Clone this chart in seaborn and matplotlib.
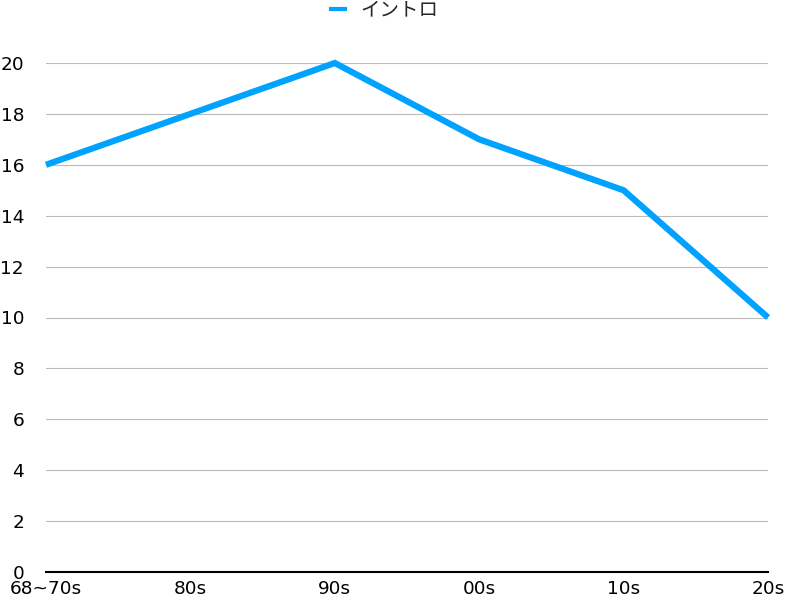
import matplotlib
matplotlib.use("Agg")
import matplotlib.pyplot as plt
import seaborn as sns
import pandas as pd

categories = ["68~70s", "80s", "90s", "00s", "10s", "20s"]
values = [16, 18, 20, 17, 15, 10]
series_name = "イントロ"

sns.set_style("white")
plt.rcParams['font.family'] = ['DejaVu Sans', 'Noto Sans CJK JP']

df = pd.DataFrame({"period": categories, "value": values, "series": series_name})

fig = plt.figure(figsize=(7.88, 6.0), dpi=100)
ax = fig.add_axes([46/788, 28/600, (768-46)/788, (572-63)/600])
sns.lineplot(data=df, x="period", y="value", hue="series", palette=["#00A2FF"],
             linewidth=4.5, sort=False, ax=ax, legend=True)
ax.set_xlim(0.0, len(categories) - 1)
ax.set_ylim(0, 20)
ax.set_yticks(range(0, 21, 2))
ax.yaxis.grid(True, color="#BBBBBB", linewidth=0.8)
ax.set_axisbelow(True)
for s in ["left", "right", "top"]:
    ax.spines[s].set_visible(False)
ax.spines["bottom"].set_color("black")
ax.spines["bottom"].set_linewidth(1.5)
ax.set_xlabel("")
ax.set_ylabel("")
ax.tick_params(axis="both", length=0, labelsize=13.3, colors="black")
ax.tick_params(axis="y", pad=15.8)
ax.tick_params(axis="x", pad=5.5)
ax.get_legend().remove()
handles, labels = ax.get_legend_handles_labels()
leg = fig.legend(handles, labels, loc="center", bbox_to_anchor=(384/788, 1 - 10/600), ncol=1,
                 frameon=False, fontsize=14, handlelength=0.9, handletextpad=0.7,
                 borderpad=0, borderaxespad=0)
for h in leg.get_lines():
    h.set_linewidth(3.0)
    h.set_solid_capstyle("butt")
for line in ax.lines:
    line.set_clip_on(False)
    line.set_solid_capstyle("butt")
    line.set_solid_joinstyle("miter")
fig.savefig("out.png", dpi=100)
